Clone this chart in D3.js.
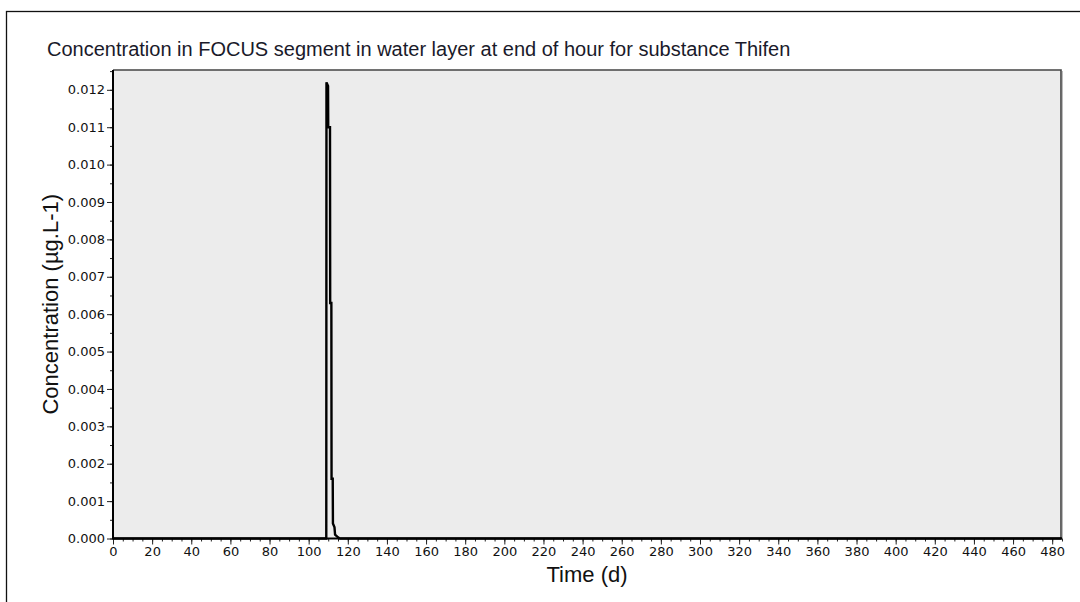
<!DOCTYPE html>
<html><head><meta charset="utf-8">
<script src="https://cdn.jsdelivr.net/npm/d3@7"></script>
<style>
html,body{margin:0;padding:0;background:#fff;overflow:hidden}
svg{display:block}
</style></head>
<body>
<svg id="chart" width="1080" height="602"></svg>
<script>
// ---- data ----
const title = "Concentration in FOCUS segment in water layer at end of hour for substance Thifen";
const xLabel = "Time (d)";
const yLabel = "Concentration (µg.L-1)";
const timeDays = [0, 109.0, 109.1, 109.9, 110.0, 110.9, 111.0, 111.6, 111.7, 112.3, 112.4, 113.2, 113.5, 115.0, 116.0, 485];
const concentration = [0, 0, 0.0122, 0.0121, 0.0110, 0.0110, 0.0063, 0.0063, 0.0016, 0.0016, 0.0004, 0.0003, 0.0001, 0.00003, 0, 0];
const xTicks = d3.range(0, 481, 20);
const xMinorTicks = d3.range(0, 486, 5);
const yTicks = d3.range(0, 13).map(i => i / 1000);
const yMinorTicks = d3.range(0, 26).map(i => i / 2000);
const xDomain = [0, 484.5];
const yDomain = [0, 0.01253];

// ---- layout ----
const svg = d3.select("#chart");
const plot = {left: 113, top: 70, right: 1061, bottom: 538.5};
const x = d3.scaleLinear().domain(xDomain).range([plot.left, plot.right]);
const y = d3.scaleLinear().domain(yDomain).range([plot.bottom, plot.top]);
const font = "'DejaVu Sans', sans-serif";
const titleFont = "'Liberation Sans', Arial, sans-serif";

// outer frame
svg.append("rect").attr("x", 6.5).attr("y", 11.5).attr("width", 1100).attr("height", 700)
  .attr("fill", "#fff").attr("stroke", "#111").attr("stroke-width", 1.3);

// title
svg.append("text").attr("x", 47).attr("y", 56).text(title)
  .attr("font-family", titleFont).attr("font-size", 20).attr("fill", "#1a1a2a");

// plot background
svg.append("rect").attr("x", plot.left).attr("y", plot.top)
  .attr("width", plot.right - plot.left).attr("height", plot.bottom - plot.top)
  .attr("fill", "#ececec").attr("stroke", "none");
// top / right border
svg.append("path").attr("d", `M${plot.left},${plot.top}H${plot.right}V${plot.bottom}`)
  .attr("fill", "none").attr("stroke", "#444").attr("stroke-width", 1.6);
svg.append("path").attr("d", `M${plot.right+1.5},${plot.top+1}V${plot.bottom}`)
  .attr("fill", "none").attr("stroke", "#bbb").attr("stroke-width", 1);

// minor ticks
const yMinor = d3.axisLeft(y).tickValues(yMinorTicks).tickSize(3).tickFormat("");
svg.append("g").attr("transform", `translate(${plot.left},0)`).call(yMinor)
  .call(g => g.select(".domain").remove()).selectAll("line").attr("stroke", "#222");
const xMinor = d3.axisBottom(x).tickValues(xMinorTicks).tickSize(3).tickFormat("");
svg.append("g").attr("transform", `translate(0,${plot.bottom})`).call(xMinor)
  .call(g => g.select(".domain").remove()).selectAll("line").attr("stroke", "#222");

// major axes
const yAxis = d3.axisLeft(y).tickValues(yTicks).tickSize(6).tickPadding(2).tickFormat(d3.format(".3f"));
const gy = svg.append("g").attr("transform", `translate(${plot.left},0)`).call(yAxis);
gy.select(".domain").remove();
gy.selectAll("line").attr("stroke", "#222");
gy.selectAll("text").attr("font-family", font).attr("font-size", 13).attr("fill", "#111");

const xAxis = d3.axisBottom(x).tickValues(xTicks).tickSize(6).tickPadding(2).tickFormat(d3.format("d"));
const gx = svg.append("g").attr("transform", `translate(0,${plot.bottom})`).call(xAxis);
gx.select(".domain").remove();
gx.selectAll("line").attr("stroke", "#222");
gx.selectAll("text").attr("font-family", font).attr("font-size", 13).attr("fill", "#111");

// axis lines (left & bottom)
svg.append("path").attr("d", `M${plot.left},${plot.top}V${plot.bottom}H${plot.right}`)
  .attr("fill", "none").attr("stroke", "#000").attr("stroke-width", 2);

// data line
const data = timeDays.map((t, i) => [t, concentration[i]]);
svg.append("path").datum(data)
  .attr("d", d3.line().x(d => x(d[0])).y(d => y(d[1])))
  .attr("fill", "none").attr("stroke", "#000").attr("stroke-width", 2.4).attr("stroke-linejoin", "miter");

// axis titles
svg.append("text").attr("x", (plot.left + plot.right) / 2).attr("y", 582)
  .attr("text-anchor", "middle").text(xLabel)
  .attr("font-family", titleFont).attr("font-size", 22).attr("fill", "#111");
svg.append("text").attr("transform", `translate(58,${(plot.top + plot.bottom) / 2}) rotate(-90)`)
  .attr("text-anchor", "middle").text(yLabel)
  .attr("font-family", titleFont).attr("font-size", 22).attr("fill", "#111");
</script>
</body></html>
